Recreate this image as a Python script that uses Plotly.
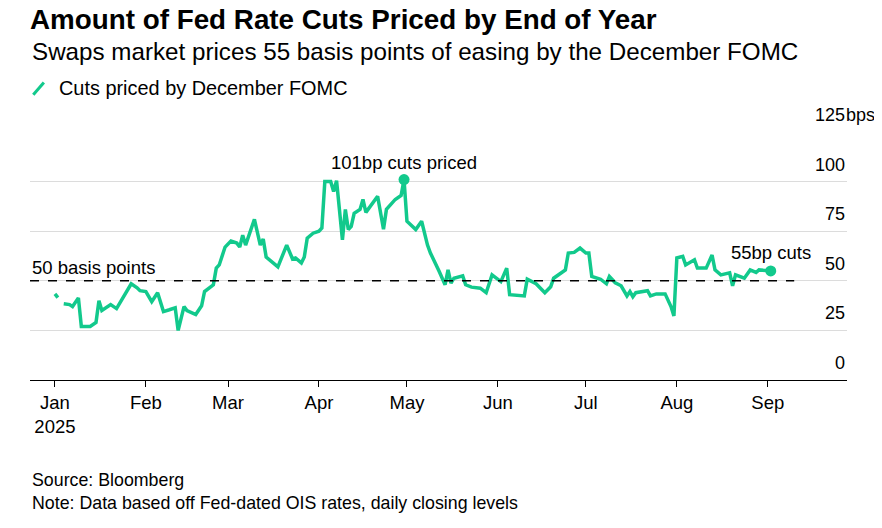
import pandas as pd
import plotly.graph_objects as go

GREEN = "#12C98C"
FONT = "Liberation Sans, Arial, sans-serif"

# days since 2025-01-01 and cuts priced (bp)
DAYS = [0, 1, 2, 3, 5, 6, 8, 9, 12, 14, 15, 16, 19, 21, 26, 28, 29, 31, 33, 35, 37, 39, 41, 42,
        44, 45, 48, 50, 51, 54, 55, 56, 58, 60, 62, 63, 64, 65, 68, 70, 71, 72, 76, 79, 81, 82,
        84, 85, 86, 88, 90, 91, 92, 94, 95, 96, 98, 99, 100, 101, 102, 104, 105, 106, 110, 112,
        113, 116, 118, 119, 120, 123, 125, 127, 128, 131, 133, 134, 135, 136, 139, 140, 142, 145,
        147, 149, 152, 154, 155, 160, 161, 164, 167, 169, 170, 174, 175, 177, 179, 181, 182, 183,
        186, 188, 189, 191, 193, 195, 196, 197, 198, 202, 203, 205, 208, 210, 211, 212, 214, 215,
        218, 219, 222, 224, 225, 227, 230, 231, 232, 235, 237, 239, 240, 244]
CUTS = [43.4, 41.5, None, 38.4, 38, 37, 41.4, 27, 27, 29, 40, 35, 38, 36, 48.5, 46.5, 45, 44.6,
        39.5, 44, 34.5, 35.4, 36.4, 25, 37, 35, 33, 37.4, 44.6, 48, 56.4, 58, 67, 70, 69, 67, 73,
        68, 81, 68, 71, 62, 57, 68, 61, 61.5, 59, 62, 71.5, 74, 75, 76.6, 100, 100, 95, 100.5,
        70.7, 86, 75.8, 77.4, 84, 86, 91, 84.5, 92.6, 76, 86, 91, 93, 101, 80, 75.8, 80, 68, 64,
        54.7, 48, 55.5, 48.8, 51.3, 52.5, 48, 46.8, 46.3, 44, 53, 49.6, 56.4, 43, 42.4, 50.8,
        48.5, 44, 47, 51.3, 55.5, 64, 64.3, 66.5, 64, 64, 52.2, 50.8, 48.5, 52.2, 49, 47.5, 42.4,
        44.6, 42, 44, 45, 42.4, 43.4, 43.4, 37, 32.3, 61.5, 62.3, 58, 60.6, 56.4, 56.4, 63, 55.5,
        53, 54, 47.5, 53, 51.3, 55.5, 54.2, 55.5, 55]
Y_TICKS = [0, 25, 50, 75, 100, 125]
MONTHS = ["2025-01-01", "2025-02-01", "2025-03-01", "2025-04-01", "2025-05-01",
          "2025-06-01", "2025-07-01", "2025-08-01", "2025-09-01"]
MONTH_LABELS = ["Jan<br>2025", "Feb", "Mar", "Apr", "May", "Jun", "Jul", "Aug", "Sep"]

dates = pd.Timestamp("2025-01-01") + pd.to_timedelta(DAYS, unit="D")
peak_i = CUTS.index(101)

fig = go.Figure()
fig.add_trace(go.Scatter(x=dates, y=CUTS, mode="lines", line=dict(color=GREEN, width=3.5),
                         connectgaps=False, showlegend=False))
fig.add_trace(go.Scatter(x=[dates[peak_i], dates[-1]], y=[CUTS[peak_i], CUTS[-1]], mode="markers",
                         marker=dict(color=GREEN, size=11), showlegend=False))

x0, x1 = pd.Timestamp("2024-12-23 12:00"), pd.Timestamp("2025-09-28")
# 50bp reference line
fig.add_shape(type="line", xref="x", x0=x0, x1=pd.Timestamp("2025-09-10"), yref="y", y0=50, y1=50,
              line=dict(color="black", width=1.6, dash="dash"))
# legend mark
fig.add_shape(type="line", xref="paper", yref="paper", x0=0.004, x1=0.017, y0=1.15, y1=1.2,
              line=dict(color=GREEN, width=3))

ann = []
for v in Y_TICKS:
    ann.append(dict(xref="paper", x=1.0, yref="y", y=v, text=str(v), showarrow=False,
                    xanchor="right", yanchor="bottom", yshift=5, font=dict(size=18)))
ann.append(dict(xref="paper", x=1.0, yref="y", y=125, text="bps", showarrow=False,
                xanchor="left", yanchor="bottom", yshift=5, xshift=-3, font=dict(size=18)))
ann += [
    dict(xref="paper", x=0, yref="y", y=50, text="50 basis points", showarrow=False,
         xanchor="left", yanchor="bottom", yshift=1, font=dict(size=18.5)),
    dict(x=dates[peak_i], y=101, text="101bp cuts priced", showarrow=False,
         xanchor="center", yanchor="bottom", yshift=5, font=dict(size=18.5)),
    dict(x=dates[-1], y=CUTS[-1], text="55bp cuts", showarrow=False,
         xanchor="center", yanchor="bottom", yshift=6, font=dict(size=18.5)),
    dict(xref="paper", x=0.033, yref="paper", y=1.177, text="Cuts priced by December FOMC",
         showarrow=False, xanchor="left", yanchor="middle", font=dict(size=19.9)),
    dict(xref="paper", x=-0.003, yref="paper", y=1.455, text="<b>Amount of Fed Rate Cuts Priced by End of Year</b>",
         showarrow=False, xanchor="left", yanchor="middle", font=dict(size=27.8)),
    dict(xref="paper", x=0, yref="paper", y=1.323,
         text="Swaps market prices 55 basis points of easing by the December FOMC",
         showarrow=False, xanchor="left", yanchor="middle", font=dict(size=24.2)),
    dict(xref="paper", x=0, yref="paper", y=-0.403, text="Source: Bloomberg",
         showarrow=False, xanchor="left", yanchor="middle", font=dict(size=17.8)),
    dict(xref="paper", x=0, yref="paper", y=-0.496,
         text="Note: Data based off Fed-dated OIS rates, daily closing levels",
         showarrow=False, xanchor="left", yanchor="middle", font=dict(size=17.8)),
]

fig.update_layout(
    width=882, height=528, paper_bgcolor="white", plot_bgcolor="white",
    margin=dict(l=22, r=43, t=124, b=156),
    font=dict(family=FONT, color="black"),
    annotations=ann,
    xaxis=dict(range=[x0, x1], tickvals=MONTHS, ticktext=MONTH_LABELS, showgrid=False,
               ticks="outside", ticklen=6, tickcolor="black", tickfont=dict(size=18.5),
               showline=False, zeroline=False),
    yaxis=dict(range=[0, 125], tickvals=Y_TICKS, showticklabels=False, showgrid=True,
               gridcolor="#DCDCDC", gridwidth=1.3, zeroline=True, zerolinecolor="black",
               zerolinewidth=1.3, fixedrange=True),
)
fig.write_html("out.html")
